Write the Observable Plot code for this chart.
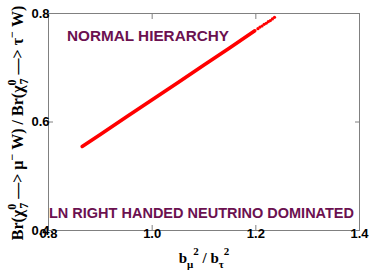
<!DOCTYPE html>
<html>
<head>
<meta charset="utf-8">
<script src="https://cdn.jsdelivr.net/npm/d3@7"></script>
<script src="https://cdn.jsdelivr.net/npm/@observablehq/plot@0.6"></script>
<style>
  html, body { margin: 0; padding: 0; background: #fff; }
  svg { display: block; }
</style>
</head>
<body>
<div id="chart"></div>
<script>
// Solid part of the curve
const solidX = [0.865, 0.90, 0.95, 1.00, 1.05, 1.10, 1.15, 1.198];
const solidY = [0.555, 0.577, 0.609, 0.641, 0.673, 0.705, 0.737, 0.768];
// Dotted tail
const dotX = [1.204, 1.208, 1.212, 1.216, 1.220, 1.224, 1.228, 1.232, 1.236];
const dotY = [0.772, 0.775, 0.777, 0.780, 0.782, 0.785, 0.787, 0.790, 0.793];
const xTicks = [0.8, 1.0, 1.2, 1.4];
const yTicks = [0.4, 0.6, 0.8];
const annTop = "NORMAL HIERARCHY";
const annBottom = "LN RIGHT HANDED NEUTRINO DOMINATED";

const solid = solidX.map((x, i) => ({x, y: solidY[i]}));
const dots = dotX.map((x, i) => ({x, y: dotY[i]}));

const tickFont = {fontSize: 13, fontWeight: "bold", fontFamily: "Liberation Sans, Arial, sans-serif"};

const plot = Plot.plot({
  width: 369,
  height: 273,
  marginLeft: 48,
  marginRight: 10,
  marginTop: 13,
  marginBottom: 43,
  style: {fontFamily: "Liberation Sans, Arial, sans-serif", background: "#fff", color: "#000"},
  x: {domain: [0.8, 1.4]},
  y: {domain: [0.4, 0.8]},
  marks: [
    Plot.frame({stroke: "#808080", strokeWidth: 1}),
    Plot.axisX({ticks: xTicks, tickSize: -5, tickPadding: 3, tickFormat: d3.format(".1f"), label: null, stroke: "#808080", fill: "#000", ...tickFont}),
    Plot.axisX({anchor: "top", ticks: xTicks, tickSize: -5, tickFormat: () => "", label: null, stroke: "#808080"}),
    Plot.axisY({ticks: yTicks, tickSize: -5, tickPadding: 4, tickFormat: d3.format(".1f"), label: null, stroke: "#808080", fill: "#000", ...tickFont}),
    Plot.axisY({anchor: "right", ticks: yTicks, tickSize: -5, tickFormat: () => "", label: null, stroke: "#808080"}),
    Plot.line(solid, {x: "x", y: "y", stroke: "#ff0000", strokeWidth: 3.6, strokeLinecap: "round"}),
    Plot.dot(dots, {x: "x", y: "y", r: 1.6, fill: "#ff0000", stroke: null}),
    Plot.text([annTop], {frameAnchor: "top-left", dx: 99.5, dy: 17, text: d => d, textAnchor: "middle", fill: "#6b1150", fontSize: 15.3, fontWeight: "bold", fontFamily: "Liberation Sans, Arial, sans-serif"}),
    Plot.text([annBottom], {frameAnchor: "bottom-left", dx: 153, dy: -13, text: d => d, textAnchor: "middle", fill: "#6b1150", fontSize: 14.5, fontWeight: "bold", fontFamily: "Liberation Sans, Arial, sans-serif"})
  ]
});

const svg = d3.select(plot);
const serif = "Liberation Serif, Times New Roman, serif";

// Y axis label
const yl = svg.append("text")
  .attr("transform", "translate(23,123) rotate(-90)")
  .attr("text-anchor", "middle")
  .attr("font-family", serif)
  .attr("font-weight", "bold")
  .attr("font-size", 16)
  .attr("fill", "#000");
function chi(t) {
  t.append("tspan").text("Br(χ");
  t.append("tspan").attr("dy", -7).attr("font-size", 12).text("0");
  t.append("tspan").attr("dx", -5).attr("dy", 12).attr("font-size", 12).text("7");
  t.append("tspan").attr("dy", -5).text(" —> ");
}
chi(yl);
yl.append("tspan").text("μ");
yl.append("tspan").attr("dy", -7).attr("font-size", 12).text("−");
yl.append("tspan").attr("dy", 7).text(" W) / ");
chi(yl);
yl.append("tspan").text("τ");
yl.append("tspan").attr("dy", -7).attr("font-size", 12).text("−");
yl.append("tspan").attr("dy", 7).text(" W)");

// X axis label
const xl = svg.append("text")
  .attr("x", 204)
  .attr("y", 263)
  .attr("text-anchor", "middle")
  .attr("font-family", serif)
  .attr("font-weight", "bold")
  .attr("font-size", 15)
  .attr("fill", "#000");
xl.append("tspan").text("b");
xl.append("tspan").attr("dy", 5).attr("font-size", 11).text("μ");
xl.append("tspan").attr("dy", -13).attr("font-size", 11).text("2");
xl.append("tspan").attr("dy", 8).text(" / b");
xl.append("tspan").attr("dy", 5).attr("font-size", 11).text("τ");
xl.append("tspan").attr("dy", -13).attr("font-size", 11).text("2");

document.getElementById("chart").appendChild(plot);
</script>
</body>
</html>
